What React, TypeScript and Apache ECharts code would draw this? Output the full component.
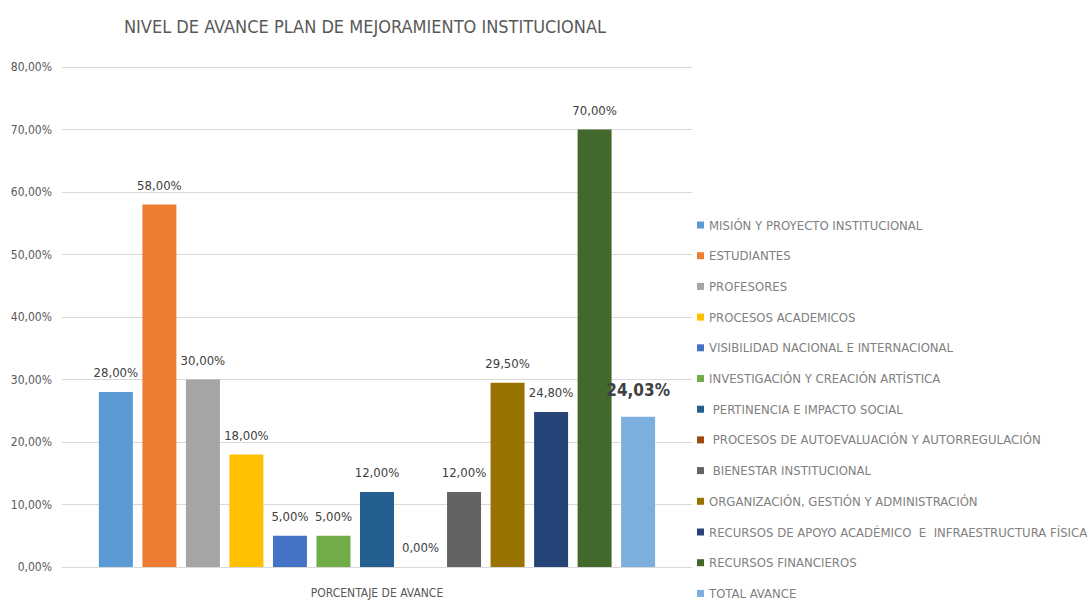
import React, { useEffect, useRef } from "react";
import * as echarts from "echarts";

const title = "NIVEL DE AVANCE PLAN DE MEJORAMIENTO INSTITUCIONAL";
const categories = ["PORCENTAJE DE AVANCE"];
const seriesNames = [
  "MISIÓN Y PROYECTO INSTITUCIONAL",
  "ESTUDIANTES",
  "PROFESORES",
  "PROCESOS ACADEMICOS",
  "VISIBILIDAD NACIONAL E INTERNACIONAL",
  "INVESTIGACIÓN Y CREACIÓN ARTÍSTICA",
  " PERTINENCIA E IMPACTO SOCIAL",
  " PROCESOS DE AUTOEVALUACIÓN Y AUTORREGULACIÓN",
  " BIENESTAR INSTITUCIONAL",
  "ORGANIZACIÓN, GESTIÓN Y ADMINISTRACIÓN",
  "RECURSOS DE APOYO ACADÉMICO  E  INFRAESTRUCTURA FÍSICA",
  "RECURSOS FINANCIEROS",
  "TOTAL AVANCE",
];
const seriesValues = [28, 58, 30, 18, 5, 5, 12, 0, 12, 29.5, 24.8, 70, 24.03];
const seriesColors = [
  "#5B9BD5", "#ED7D31", "#A5A5A5", "#FFC000", "#4472C4", "#70AD47", "#255E91",
  "#9E480E", "#636363", "#997300", "#264478", "#43682B", "#7CAFDD",
];

const FONT = "'Liberation Sans Narrow', 'DejaVu Sans Condensed', sans-serif";
const fmt = (v: number) => v.toFixed(2).replace(".", ",") + "%";

export default function App() {
  const ref = useRef<HTMLDivElement>(null);
  useEffect(() => {
    if (!ref.current) return;
    const chart = echarts.init(ref.current, null, { renderer: "svg" });
    const last = seriesNames.length - 1;
    chart.setOption({
      animation: false,
      backgroundColor: "#ffffff",
      title: {
        text: title,
        left: 360,
        top: 12,
        textAlign: "center",
        textStyle: { fontFamily: FONT, fontSize: 18, fontWeight: "normal", color: "#595959" },
      },
      legend: {
        orient: "vertical",
        left: 697,
        top: 218,
        height: 385,
        padding: 0,
        icon: "rect",
        itemWidth: 7,
        itemHeight: 7,
        itemGap: 16.7,
        data: seriesNames,
        textStyle: { fontFamily: FONT, fontSize: 13, color: "#808080", lineHeight: 14, whiteSpace: "pre" },
      },
      grid: { left: 62, right: 399, top: 67, bottom: 36 },
      xAxis: {
        type: "category",
        data: categories,
        axisTick: { show: false },
        axisLine: { lineStyle: { color: "#D9D9D9" } },
        axisLabel: { fontFamily: FONT, fontSize: 12, color: "#595959", margin: 20 },
      },
      yAxis: {
        type: "value",
        min: 0,
        max: 80,
        interval: 10,
        axisLine: { show: false },
        axisTick: { show: false },
        splitLine: { lineStyle: { color: "#D9D9D9" } },
        axisLabel: { fontFamily: FONT, fontSize: 12, color: "#595959", margin: 10, formatter: (v: number) => fmt(v) },
      },
      series: seriesNames.map((name, i) => ({
        type: "bar",
        name,
        data: [seriesValues[i]],
        barWidth: 34,
        barGap: "28%",
        itemStyle: { color: seriesColors[i] },
        label: {
          show: true,
          position: "top",
          distance: i === last ? 18 : 13,
          fontFamily: FONT,
          fontSize: i === last ? 17 : 13,
          fontWeight: i === last ? "bold" : "normal",
          color: "#404040",
          formatter: (p: any) => fmt(p.value),
        },
      })),
    });
    return () => chart.dispose();
  }, []);
  return <div ref={ref} style={{ width: 1091, height: 603, position: "absolute", left: 0, top: 0 }} />;
}
